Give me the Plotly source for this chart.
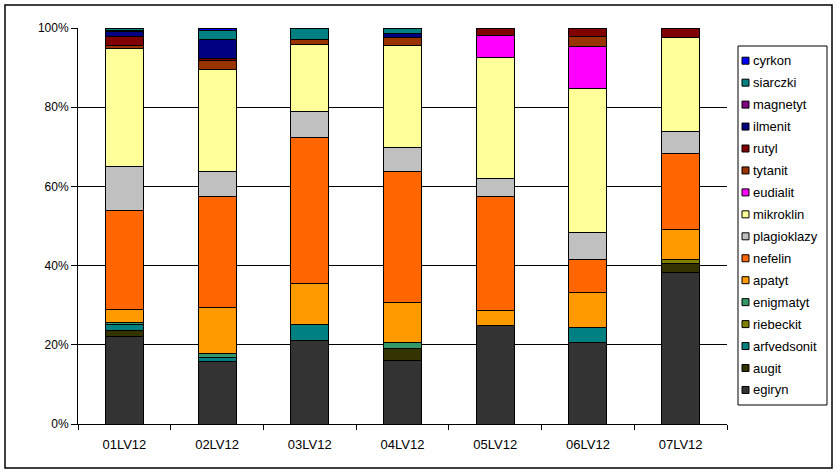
import plotly.graph_objects as go

categories = ["01LV12", "02LV12", "03LV12", "04LV12", "05LV12", "06LV12", "07LV12"]

egiryn      = [22.0, 15.9, 21.0, 16.1, 24.9, 20.6, 38.3]
augit       = [1.6, 0, 0, 3.0, 0, 0, 2.3]
arfvedsonit = [1.6, 0.9, 4.2, 0, 0, 3.8, 0]
riebeckit   = [0, 0, 0, 0, 0, 0, 1.0]
enigmatyt   = [0.4, 1.0, 0, 1.4, 0, 0, 0]
apatyt      = [3.4, 11.7, 10.3, 10.2, 3.7, 8.9, 7.6]
nefelin     = [24.9, 27.9, 36.9, 33.1, 28.8, 8.3, 19.2]
plagioklazy = [11.2, 6.3, 6.6, 6.1, 4.6, 6.8, 5.5]
mikroklin   = [29.7, 25.9, 16.9, 25.6, 30.5, 36.4, 23.7]
eudialit    = [0, 0, 0, 0, 5.6, 10.5, 0]
tytanit     = [0.8, 2.1, 1.2, 2.0, 0, 2.6, 0]
rutyl       = [2.3, 0.5, 0, 0, 1.9, 2.1, 2.4]
ilmenit     = [1.2, 4.8, 0, 1.0, 0, 0, 0]
magnetyt    = [0.3, 0, 0, 0, 0, 0, 0]
siarczki    = [0.6, 2.3, 2.9, 1.5, 0, 0, 0]
cyrkon      = [0, 0.7, 0, 0, 0, 0, 0]

tick_vals = [0, 20, 40, 60, 80, 100]
tick_text = ["0%", "20%", "40%", "60%", "80%", "100%"]

series = [
    ("egiryn", egiryn, "#333333"),
    ("augit", augit, "#333300"),
    ("arfvedsonit", arfvedsonit, "#008080"),
    ("riebeckit", riebeckit, "#808000"),
    ("enigmatyt", enigmatyt, "#339966"),
    ("apatyt", apatyt, "#FF9900"),
    ("nefelin", nefelin, "#FF6600"),
    ("plagioklazy", plagioklazy, "#C0C0C0"),
    ("mikroklin", mikroklin, "#FFFF99"),
    ("eudialit", eudialit, "#FF00FF"),
    ("tytanit", tytanit, "#993300"),
    ("rutyl", rutyl, "#800000"),
    ("ilmenit", ilmenit, "#000080"),
    ("magnetyt", magnetyt, "#800080"),
    ("siarczki", siarczki, "#008080"),
    ("cyrkon", cyrkon, "#0000FF"),
]

W, H = 839, 474
L, R, T, B = 78, 727, 28, 424  # plot area in pixels


def px(x):
    return (x - L) / (R - L)


def py(y):
    return (B - y) / (B - T)


fig = go.Figure()
for name, vals, color in series:
    fig.add_trace(go.Bar(
        x=categories,
        y=[v if v else None for v in vals],
        name=name,
        showlegend=False,
        marker=dict(color=color, line=dict(color="black", width=1)),
    ))

FONT = "Liberation Sans, Arial, sans-serif"

shapes = [
    # outer chart border
    dict(type="rect", xref="paper", yref="paper",
         x0=px(5), x1=px(832), y0=py(468), y1=py(5),
         line=dict(color="black", width=1.5), fillcolor="rgba(0,0,0,0)", layer="above"),
    # legend box
    dict(type="rect", xref="paper", yref="paper",
         x0=px(738), x1=px(827), y0=py(405), y1=py(46),
         line=dict(color="black", width=1), fillcolor="white", layer="above"),
]
annotations = []
for i, (name, vals, color) in enumerate(reversed(series)):
    cy = 60.7 + 21.95 * i
    shapes.append(dict(type="rect", xref="paper", yref="paper",
                       x0=px(742), x1=px(749), y0=py(cy + 3.5), y1=py(cy - 3.5),
                       line=dict(color="black", width=1), fillcolor=color, layer="above"))
    annotations.append(dict(xref="paper", yref="paper", x=px(751), y=py(cy),
                            xanchor="left", yanchor="middle", showarrow=False,
                            text=name, font=dict(family=FONT, size=13, color="black")))

fig.update_layout(
    width=W, height=H,
    barmode="stack", barnorm="percent", bargap=0.59,
    margin=dict(l=L, r=W - R, t=T, b=H - B),
    paper_bgcolor="white", plot_bgcolor="white",
    font=dict(family=FONT, size=12, color="black"),
    showlegend=False,
    xaxis=dict(
        showline=True, linecolor="black", linewidth=1,
        ticks="outside", ticklen=5, tickcolor="black", tickson="boundaries",
        showgrid=False, ticklabelstandoff=8,
        tickfont=dict(family=FONT, size=13, color="black"),
    ),
    yaxis=dict(
        range=[0, 100], tickvals=tick_vals, ticktext=tick_text,
        showline=True, linecolor="black", linewidth=1,
        ticks="outside", ticklen=6, tickcolor="black",
        showgrid=True, gridcolor="black", gridwidth=1,
        zeroline=False,
        tickfont=dict(family=FONT, size=12, color="black"),
    ),
    shapes=shapes,
    annotations=annotations,
)

fig.write_html("out.html")
